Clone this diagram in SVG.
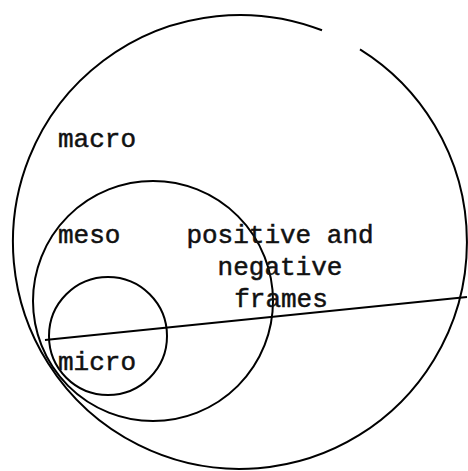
<svg xmlns="http://www.w3.org/2000/svg" width="468" height="471" viewBox="0 0 468 471">
<style>
.c{fill:none;stroke:#000;stroke-width:2}
.t{font-family:"Liberation Mono","Courier New",monospace;font-size:26px;fill:#111;stroke:#111;stroke-width:0.5}
</style>
<rect width="468" height="471" fill="#fff"/>
<g id="macro">
<path class="c" d="M360,49.3 A227,227 0 1 1 322,30.3"/>
<text class="t" x="58" y="147">macro</text>
</g>
<g id="meso">
<circle class="c" cx="153" cy="301" r="120"/>
<text class="t" x="58" y="243">meso</text>
</g>
<g id="micro">
<circle class="c" cx="108" cy="336" r="59"/>
<text class="t" x="58" y="370">micro</text>
</g>
<g id="frames">
<text class="t" text-anchor="middle" x="280" y="243">positive and</text>
<text class="t" text-anchor="middle" x="280" y="275">negative</text>
<text class="t" text-anchor="middle" x="281" y="307">frames</text>
</g>
<g id="connectors">
<line class="c" x1="45" y1="340" x2="467" y2="297"/>
</g>
</svg>
